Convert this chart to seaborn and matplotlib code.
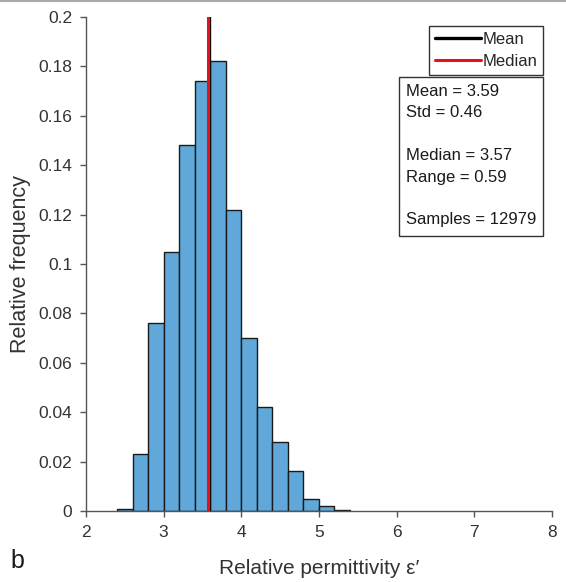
import numpy as np
import pandas as pd
import matplotlib
matplotlib.use('Agg')
import matplotlib.pyplot as plt
import seaborn as sns
from matplotlib.ticker import FuncFormatter
from matplotlib.patches import Rectangle

# Histogram bins (relative permittivity) and relative frequencies
bin_edges = [2.4, 2.6, 2.8, 3.0, 3.2, 3.4, 3.6, 3.8, 4.0, 4.2, 4.4, 4.6, 4.8, 5.0, 5.2, 5.4]
rel_freq = [0.001, 0.023, 0.076, 0.105, 0.148, 0.174, 0.182, 0.122,
            0.070, 0.042, 0.028, 0.016, 0.005, 0.002, 0.0005]

mean_val = 3.59
median_val = 3.57
stats_lines = ['Mean = 3.59', 'Std = 0.46', '', 'Median = 3.57', 'Range = 0.59', '', 'Samples = 12979']

centers = [(a + b) / 2 for a, b in zip(bin_edges[:-1], bin_edges[1:])]
df = pd.DataFrame({'eps': centers, 'freq': rel_freq})

sns.set_style('white')
plt.rcParams['font.family'] = ['Liberation Sans', 'DejaVu Sans']

fig = plt.figure(figsize=(5.66, 5.82), dpi=100)
ax = fig.add_axes([0.152, 0.122, 0.823, 0.849])

sns.histplot(data=df, x='eps', weights='freq', bins=bin_edges, stat='count',
             color='#5fa8d9', alpha=1, edgecolor='#1a1a1a', linewidth=1.0, ax=ax)

ax.axvline(mean_val, ymin=0, ymax=1, color='black', lw=2.4, label='Mean')
ax.axvline(median_val, ymin=0, ymax=1, color='#e8101a', lw=2.2, label='Median')

ax.set_xlim(2, 8)
ax.set_ylim(0, 0.2)
ax.set_xticks(range(2, 9))
ax.set_yticks(np.arange(0, 0.201, 0.02))
fmt = FuncFormatter(lambda v, p: '{:g}'.format(round(v, 3)))
ax.yaxis.set_major_formatter(fmt)
ax.xaxis.set_major_formatter(fmt)

for s in ['top', 'right']:
    ax.spines[s].set_visible(False)
for s in ['left', 'bottom']:
    ax.spines[s].set_color('#555555')
    ax.spines[s].set_linewidth(1.0)
ax.tick_params(direction='out', length=4, width=1, color='#555555',
               labelsize=12.5, labelcolor='#333333', left=True, bottom=True, pad=6)

ax.set_xlabel("Relative permittivity ε′", fontsize=15, color='#333333', labelpad=14)
ax.set_ylabel('Relative frequency', fontsize=15.5, color='#333333', labelpad=5)

leg = ax.legend(loc='upper right', bbox_to_anchor=(0.981, 0.981), fontsize=12,
                frameon=True, fancybox=False, edgecolor='#333333', framealpha=1,
                handlelength=2.8, handletextpad=0.05, borderpad=0.35, labelspacing=0.4,
                borderaxespad=0)
leg.get_frame().set_linewidth(1.0)

# stats box
ax.add_patch(Rectangle((0.672, 0.557), 0.309, 0.322, transform=ax.transAxes,
                       facecolor='white', edgecolor='#333333', lw=1.0, zorder=5))
ax.text(0.686, 0.864, '\n'.join(stats_lines), transform=ax.transAxes, fontsize=12,
        va='top', ha='left', color='#1a1a1a', linespacing=1.53, zorder=6)

fig.text(0.018, 0.015, 'b', fontsize=18, color='#1a1a1a', ha='left', va='bottom')
fig.add_artist(plt.Line2D([0, 1], [0.998, 0.998], transform=fig.transFigure, color='#aaaaaa', lw=1.5))

fig.savefig('out.png', dpi=100)
